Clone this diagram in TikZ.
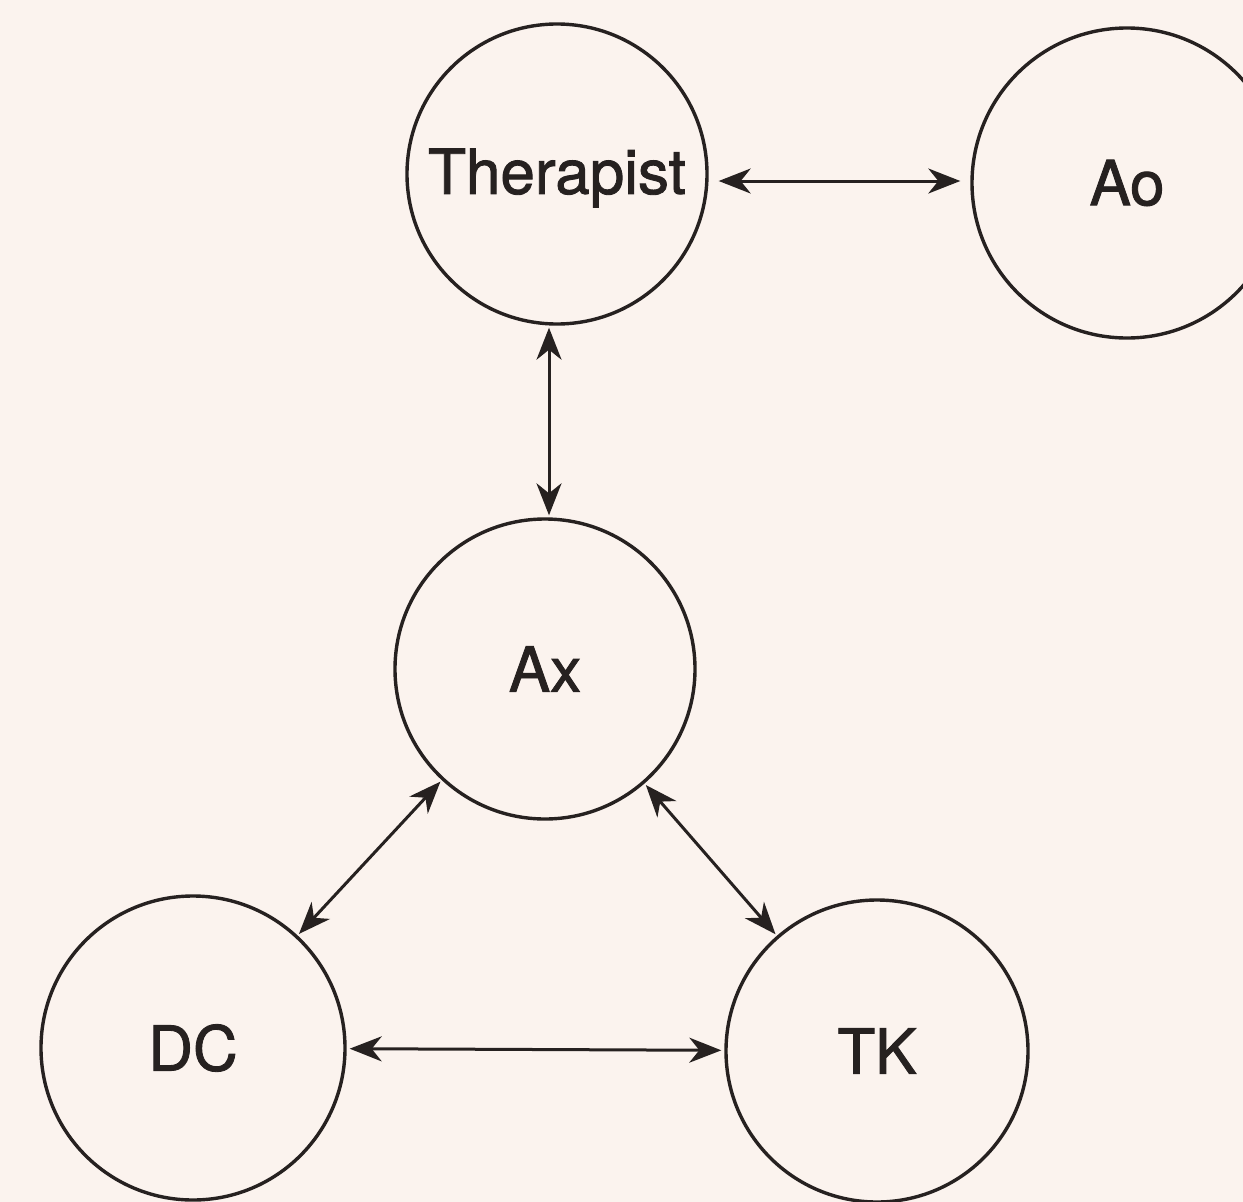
\documentclass[tikz,border=0pt]{standalone}
\usepackage{fontspec}
\setmainfont{TeX Gyre Heros}
\newfontfamily\labelfont{TeX Gyre Heros}[FakeBold=1.4]
\usetikzlibrary{arrows.meta}
\definecolor{paper}{HTML}{FBF3EE}
\definecolor{ink}{HTML}{262120}
\tikzset{
  bubble/.style={circle, draw=ink, line width=3.4pt, inner sep=0pt,
    minimum size=#1, text=ink, font=\labelfont\fontsize{62}{70}\selectfont},
  link/.style={draw=ink, line width=3pt, {Stealth[length=32pt,width=25pt,inset=10pt]}-{Stealth[length=32pt,width=25pt,inset=10pt]}}
}
\begin{document}
\begin{tikzpicture}[x=1pt,y=-1pt]
  \clip (0,0) rectangle (1243,1202);
  \fill[paper] (0,0) rectangle (1243,1202);
  % the five participants
  \node[bubble=300pt] (ther) at (557,174) {\raisebox{-4pt}[\height][\depth]{Therapist}};
  \node[bubble=310pt] (ao)   at (1127,183) {Ao};
  \node[bubble=300pt] (ax)   at (545,669) {Ax};
  \node[bubble=304pt] (dc)   at (193,1048) {DC};
  \node[bubble=302pt] (tk)   at (877,1051) {TK};
  % two-way relations
  \draw[link, shorten <=10pt, shorten >=10pt] (ther.east |- 0,181) -- (ao.west |- 0,181);
  \draw[link, shorten <=2pt, shorten >=2pt] ([xshift=4pt]ax.north |- ther.south) -- ([xshift=4pt]ax.north);
  \draw[link, shorten <=2pt, shorten >=2pt] (ax) -- (dc);
  \draw[link, shorten <=2pt, shorten >=2pt] (ax) -- (tk);
  \draw[link, shorten <=3pt, shorten >=3pt] (dc) -- (tk);
\end{tikzpicture}
\end{document}
